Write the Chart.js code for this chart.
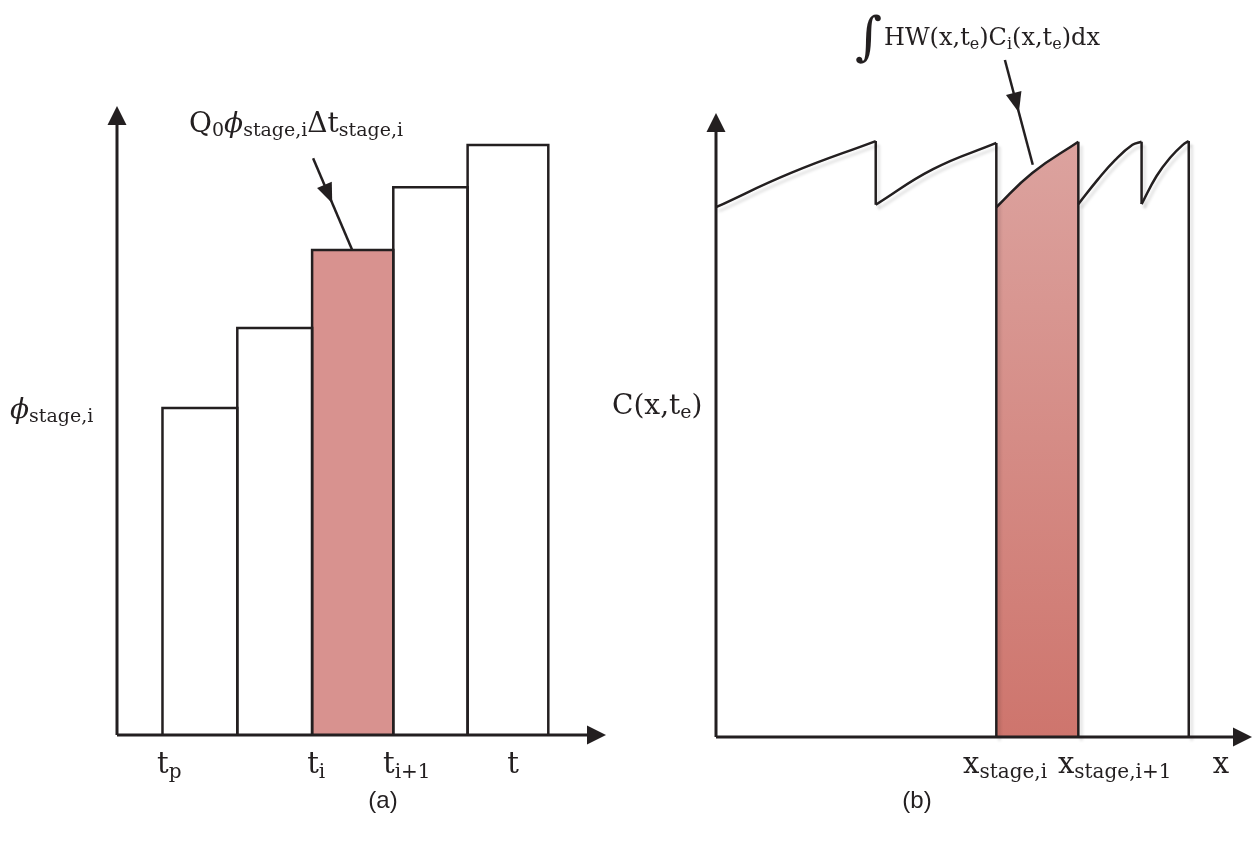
<!DOCTYPE html>
<html>
<head>
<meta charset="utf-8">
<script src="https://cdn.jsdelivr.net/npm/chart.js@4.4.0/dist/chart.umd.min.js"></script>
<style>
  html, body { margin: 0; padding: 0; background: #fff; }
  #wrap { position: relative; width: 1253px; height: 846px; overflow: hidden; background: #fff; }
  #chartA { position: absolute; left: 0; top: 0; }
  #chartB { position: absolute; left: 610px; top: 0; }
</style>
</head>
<body>
<div id="wrap">
  <canvas id="chartA" width="610" height="846"></canvas>
  <canvas id="chartB" width="643" height="846"></canvas>
</div>
<script>
// 🔹 PANEL (a) DATA — stage edges along t (0..100 of axis) and step heights (0..100)
const stageEdges = [9.3, 24.6, 39.9, 56.5, 71.7, 88.2];
const stageHeights = [52.0, 64.7, 77.1, 87.1, 93.8];
const activeStage = 2;
const tickPosA = [8.2, 38.9, 54.4, 79.8];
const tickLabelsA = [['t', '_p'], ['t', '_i'], ['t', '_i+1'], ['t']];

// 🔹 PANEL (b) DATA — C(x,te) profile, one array per stage segment [x, C]
const seg1 = [[0, 84.9], [14.0, 90.4], [29.8, 95.5]];
const seg2 = [[29.8, 85.3], [40.5, 91.0], [52.3, 95.2]];
const seg3 = [[52.3, 84.9], [59.0, 90.4], [67.6, 95.4]];
const seg4 = [[67.6, 85.4], [71.3, 89.4], [74.4, 92.4], [77.7, 94.9], [79.4, 95.4]];
const seg5 = [[79.4, 85.4], [82.2, 89.9], [84.8, 92.9], [87.1, 94.9], [88.2, 95.5]];
const curveSegments = [seg1, seg2, seg3, seg4, seg5];
const activeSegment = 2;
// vertical drops [x, from, to]
const drops = [[29.8, 95.5, 85.3], [52.3, 95.2, 0], [67.6, 95.4, 0], [79.4, 95.4, 85.4], [88.2, 95.5, 0]];
const tickPosB = [46.1, 63.8, 92.7];
const tickLabelsB = [['x', '_stage,i'], ['x', '_stage,i+1'], ['x']];

// 🔥 STYLE
const INK = '#231f20';
const PINK = '#d8928f';
const SERIF = '"DejaVu Serif", serif';

// 🔥 TEXT WITH SUBSCRIPTS
function drawMath(ctx, parts, x, y, size) {
    const sub = Math.round(size * 0.68);
    parts.forEach(p => {
        const isSub = p[0] === '_';
        const isIt = p[0] === '*';
        const txt = (isSub || isIt) ? p.slice(1) : p;
        ctx.font = (isIt ? 'italic ' : '') + (isSub ? sub : size) + 'px ' + SERIF;
        ctx.fillText(txt, x, isSub ? y + size * 0.16 : y);
        x += ctx.measureText(txt).width;
    });
}

function arrowHead(ctx, tx, ty, dx, dy, len, w) {
    const m = Math.hypot(dx, dy);
    dx /= m; dy /= m;
    const bx = tx - dx * len, by = ty - dy * len;
    ctx.beginPath();
    ctx.moveTo(tx, ty);
    ctx.lineTo(bx - dy * w / 2, by + dx * w / 2);
    ctx.lineTo(bx + dy * w / 2, by - dx * w / 2);
    ctx.closePath();
    ctx.fill();
}

function drawAxes(chart) {
    const { ctx, scales: { x, y } } = chart;
    const x0 = x.getPixelForValue(0), y0 = y.getPixelForValue(0);
    const xe = x.getPixelForValue(100), ye = y.getPixelForValue(100);
    ctx.save();
    ctx.strokeStyle = INK;
    ctx.fillStyle = INK;
    ctx.lineWidth = 3;
    ctx.beginPath();
    ctx.moveTo(x0, ye + 15);
    ctx.lineTo(x0, y0);
    ctx.moveTo(x0, y0);
    ctx.lineTo(xe - 15, y0);
    ctx.stroke();
    arrowHead(ctx, x0, ye, 0, -1, 19, 19);
    arrowHead(ctx, xe, y0, 1, 0, 19, 19);
    ctx.restore();
}

function pointerArrow(chart, a, b, frac) {
    const { ctx, scales: { x, y } } = chart;
    const x1 = x.getPixelForValue(a[0]), y1 = y.getPixelForValue(a[1]);
    const x2 = x.getPixelForValue(b[0]), y2 = y.getPixelForValue(b[1]);
    ctx.save();
    ctx.strokeStyle = INK;
    ctx.fillStyle = INK;
    ctx.lineWidth = 2.5;
    ctx.beginPath();
    ctx.moveTo(x1, y1);
    ctx.lineTo(x2, y2);
    ctx.stroke();
    arrowHead(ctx, x1 + (x2 - x1) * frac, y1 + (y2 - y1) * frac, x2 - x1, y2 - y1, 20, 16);
    ctx.restore();
}

// 🔥 PANEL (a) OVERLAY
const figA = {
    id: 'figA',
    afterDatasetsDraw(chart) {
        const { ctx, scales: { x } } = chart;
        drawAxes(chart);
        pointerArrow(chart, [40.1, 91.7], [48.1, 77.1], 0.49);
        ctx.save();
        ctx.fillStyle = INK;
        ctx.textBaseline = 'alphabetic';
        drawMath(ctx, ['Q', '_0', '*ϕ', '_stage,i', 'Δt', '_stage,i'], 189, 132, 28);
        drawMath(ctx, ['*ϕ', '_stage,i'], 10, 418, 28);
        tickLabelsA.forEach((parts, i) => drawMath(ctx, parts, x.getPixelForValue(tickPosA[i]), 773, 29));
        ctx.font = '24px "Liberation Sans", Arial, sans-serif';
        ctx.textAlign = 'center';
        ctx.textBaseline = 'middle';
        ctx.fillText('(a)', 383, 801);
        ctx.restore();
    }
};

// 🔥 PANEL (b) OVERLAY
const figB = {
    id: 'figB',
    beforeDatasetDraw(chart, args) {
        const ds = chart.data.datasets[args.index];
        if (ds.shadow) {
            chart.ctx.save();
            chart.ctx.shadowColor = 'rgba(0,0,0,0.13)';
            chart.ctx.shadowBlur = 3;
            chart.ctx.shadowOffsetX = 3;
            chart.ctx.shadowOffsetY = 4;
        }
    },
    afterDatasetDraw(chart, args) {
        if (chart.data.datasets[args.index].shadow) chart.ctx.restore();
    },
    afterDatasetsDraw(chart) {
        const { ctx, scales: { x } } = chart;
        drawAxes(chart);
        pointerArrow(chart, [53.9, 108.5], [59.1, 91.7], 0.5);
        ctx.save();
        ctx.fillStyle = INK;
        ctx.font = '52px ' + SERIF;
        ctx.fillText('∫', 855 - 610, 54);
        drawMath(ctx, ['HW(x,t', '_e', ')C', '_i', '(x,t', '_e', ')dx'], 884 - 610, 45, 24);
        drawMath(ctx, ['C(x,t', '_e', ')'], 612 - 610, 414, 28);
        tickLabelsB.forEach((parts, i) => drawMath(ctx, parts, x.getPixelForValue(tickPosB[i]), 773, 29));
        ctx.font = '24px "Liberation Sans", Arial, sans-serif';
        ctx.textAlign = 'center';
        ctx.textBaseline = 'middle';
        ctx.fillText('(b)', 917 - 610, 801);
        ctx.restore();
    }
};

function scaleOpts() {
    return {
        x: { type: 'linear', min: 0, max: 100, display: false },
        y: { type: 'linear', min: 0, max: 100, display: false }
    };
}

const lineBase = {
    borderColor: INK,
    pointRadius: 0,
    tension: 0,
    clip: false
};

// 🔥 CREATE PANEL (a)
const barSets = stageHeights.map((h, i) => ({
    ...lineBase,
    data: [
        { x: stageEdges[i], y: 0 },
        { x: stageEdges[i], y: h },
        { x: stageEdges[i + 1], y: h },
        { x: stageEdges[i + 1], y: 0 }
    ],
    borderWidth: 2.5,
    fill: i === activeStage ? 'origin' : false,
    backgroundColor: PINK,
    order: i === activeStage ? 5 : 0
}));

new Chart(document.getElementById('chartA'), {
    type: 'line',
    data: { datasets: barSets },
    options: {
        responsive: false,
        animation: false,
        layout: { padding: { left: 117, right: 4, top: 106, bottom: 111 } },
        scales: scaleOpts(),
        plugins: { legend: { display: false }, tooltip: { enabled: false } }
    },
    plugins: [figA]
});

// 🔥 CREATE PANEL (b)
function pinkGradient(c) {
    const area = c.chart.chartArea;
    if (!area) return PINK;
    const g = c.chart.ctx.createLinearGradient(0, area.top + 25, 0, area.bottom);
    g.addColorStop(0, '#dca39f');
    g.addColorStop(1, '#ce756d');
    return g;
}

const curveSets = curveSegments.map((seg, i) => ({
    ...lineBase,
    data: seg.map(p => ({ x: p[0], y: p[1] })),
    borderWidth: 2.5,
    tension: 0.45,
    fill: i === activeSegment ? 'origin' : false,
    backgroundColor: pinkGradient,
    shadow: i !== activeSegment,
    order: i === activeSegment ? 5 : 0
}));

const dropSets = drops.map(d => ({
    ...lineBase,
    data: [{ x: d[0], y: d[1] }, { x: d[0], y: d[2] }],
    borderWidth: 2.5,
    fill: false,
    shadow: true
}));

new Chart(document.getElementById('chartB'), {
    type: 'line',
    data: { datasets: curveSets.concat(dropSets) },
    options: {
        responsive: false,
        animation: false,
        layout: { padding: { left: 106, right: 1, top: 113, bottom: 109 } },
        scales: scaleOpts(),
        plugins: { legend: { display: false }, tooltip: { enabled: false } }
    },
    plugins: [figB]
});
</script>
</body>
</html>
